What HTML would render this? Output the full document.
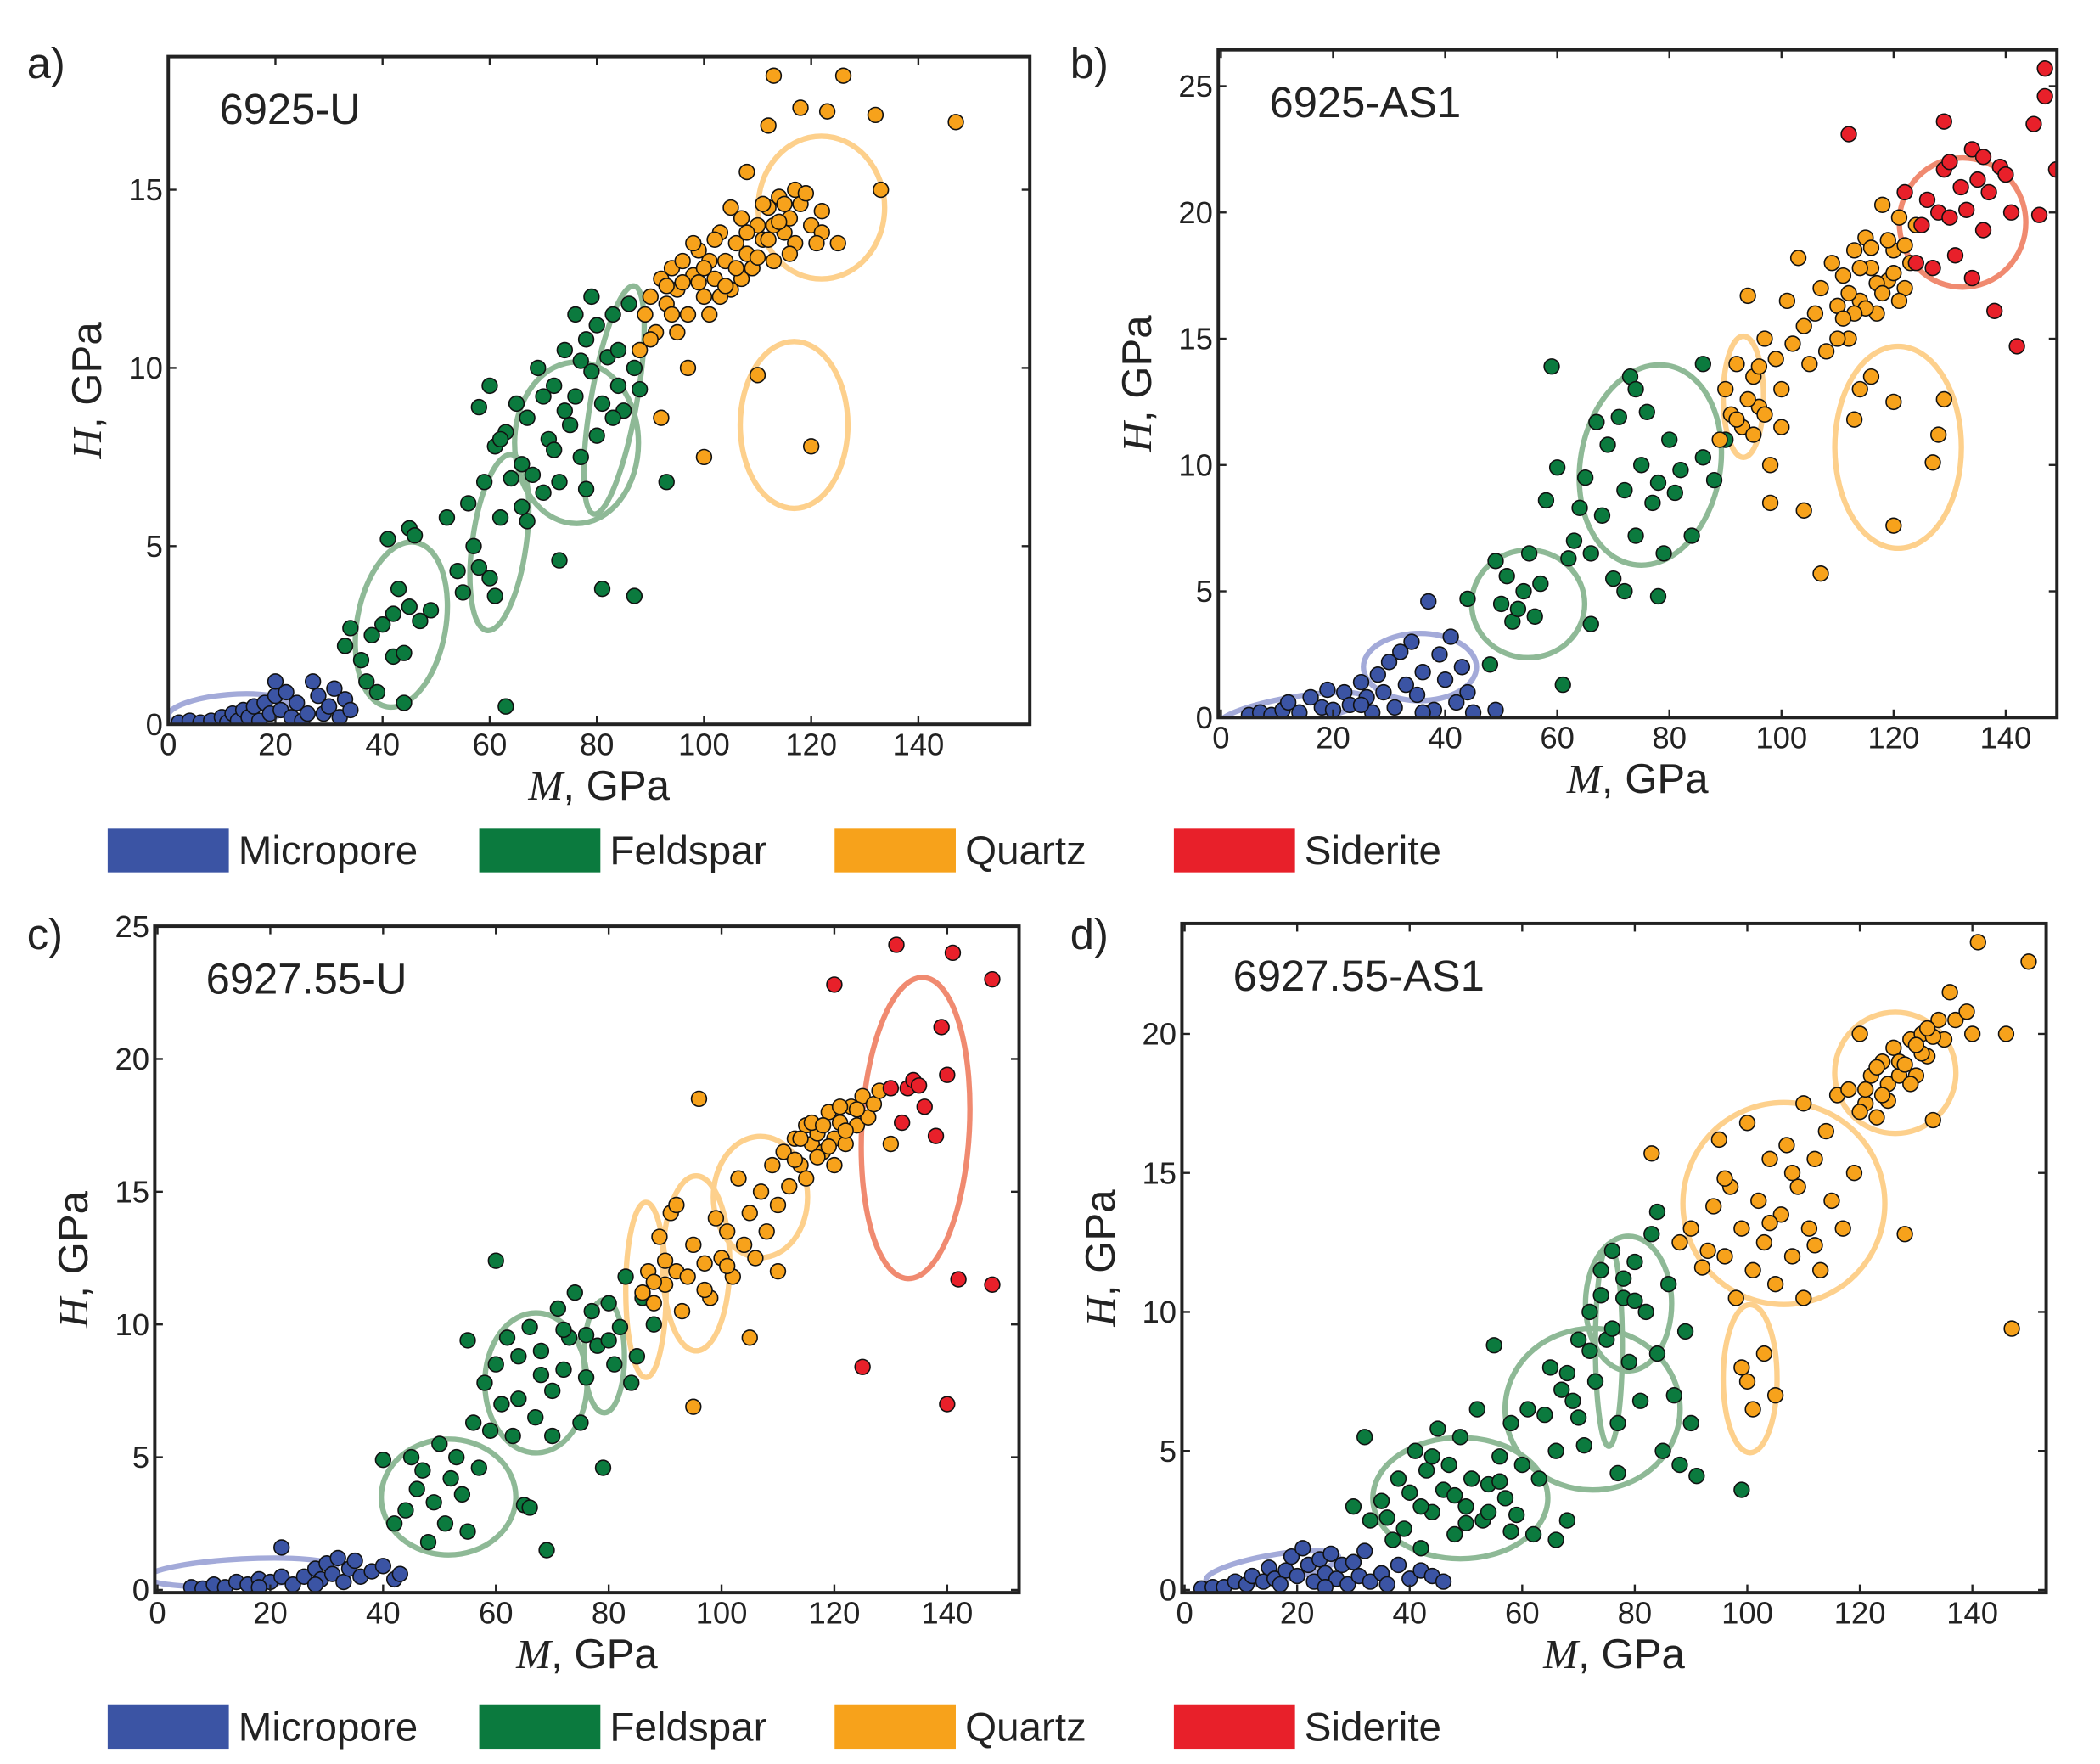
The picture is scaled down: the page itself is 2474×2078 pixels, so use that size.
<!DOCTYPE html>
<html><head><meta charset="utf-8"><style>
html,body{margin:0;padding:0;background:#fff;}
svg{display:block;}
text{font-family:"Liberation Sans",sans-serif;fill:#222;}
</style></head><body>
<svg id="fig" width="2474" height="2078" viewBox="0 0 1560 1310.3" preserveAspectRatio="none" xmlns="http://www.w3.org/2000/svg"></svg>
<script>
// ---------- data (M GPa, H GPa) ----------
const aMicro=[[2,0.05],[4,0.1],[6,0.05],[8,0.1],[10,0.2],[11,0.05],[12,0.3],[13,0.1],[14,0.4],[15,0.2],[16,0.5],[17,0.1],[18,0.6],[19,0.3],[20,0.8],[20,1.2],[21,0.4],[22,0.9],[23,0.2],[24,0.6],[25,0.1],[27,1.2],[28,0.8],[29,0.3],[30,0.5],[31,1.0],[32,0.2],[33,0.7],[34,0.4],[26,0.3]];
const aFeld=[[33,2.2],[34,2.7],[36,1.8],[37,1.2],[38,2.5],[39,0.9],[40,2.8],[41,5.2],[42,1.9],[42,3.1],[43,3.8],[44,0.6],[44,2.0],[45,5.5],[45,3.3],[46,5.3],[47,2.9],[49,3.2],[52,5.8],[54,4.3],[55,3.7],[56,6.2],[57,5.0],[58,4.4],[59,6.8],[60,4.1],[61,7.8],[61,3.6],[62,5.8],[63,0.5],[63,8.2],[64,6.9],[65,9.0],[66,7.3],[67,8.6],[67,5.7],[68,7.0],[69,10.0],[70,6.5],[71,8.0],[72,9.5],[73,6.8],[73,4.6],[74,10.5],[75,8.4],[76,9.2],[77,7.5],[78,10.8],[79,9.9],[80,11.2],[80,8.1],[81,3.8],[82,10.3],[83,11.5],[84,9.5],[85,8.8],[86,11.8],[87,3.6],[87,10.0],[88,9.4],[76,11.5],[72,7.7],[78,6.6],[66,6.1],[58,8.9],[60,9.5],[62,8.0],[79,12.0],[84,10.5],[93,6.8],[70,9.2],[74,8.8],[81,9.0],[83,8.6],[77,10.2]];
const aQuartz=[[88,10.5],[89,11.5],[90,12.0],[91,11.0],[92,12.5],[93,11.8],[94,12.8],[95,12.2],[96,13.0],[97,11.5],[98,12.6],[99,13.3],[100,12.0],[101,13.0],[102,12.5],[103,13.8],[104,13.0],[105,12.2],[106,13.5],[107,14.2],[108,13.2],[109,12.8],[110,14.0],[111,13.6],[112,14.5],[113,13.0],[114,14.8],[115,13.8],[116,14.2],[117,13.5],[118,14.6],[120,14.0],[122,13.8],[125,13.5],[92,8.6],[97,10.0],[100,7.5],[110,9.8],[120,7.8],[112,16.8],[113,18.2],[118,17.3],[123,17.2],[126,18.2],[132,17.1],[133,15.0],[147,16.9],[108,15.5],[105,14.5],[95,11.0],[103,12.0],[117,15.0],[122,14.4],[90,10.8],[99,12.4],[107,12.5],[113,14.0],[94,11.5],[96,12.4],[98,13.5],[100,12.8],[102,13.6],[104,12.3],[106,12.8],[108,13.8],[110,13.1],[112,13.6],[114,14.1],[116,13.2],[119,14.9],[121,13.5],[111,14.6],[115,14.6],[101,11.5],[93,12.3]];
const aSid=[];
const bMicro=[[5,0.1],[7,0.2],[9,0.1],[11,0.3],[12,0.6],[14,0.2],[16,0.8],[18,0.4],[19,1.1],[20,0.3],[22,1.0],[23,0.5],[25,1.4],[26,0.8],[27,0.2],[28,1.7],[29,1.0],[30,2.2],[31,0.4],[32,2.6],[33,1.3],[34,3.0],[35,0.9],[36,1.8],[37,4.6],[38,0.3],[39,2.5],[40,1.5],[41,3.2],[42,0.6],[43,2.0],[44,1.0],[45,0.2],[49,0.3],[25,0.5],[36,0.2]];
const bFeld=[[44,4.7],[48,2.1],[49,6.2],[50,4.5],[51,5.6],[52,3.8],[53,4.3],[54,5.0],[55,6.5],[56,4.0],[57,5.3],[58,8.6],[59,13.9],[60,9.9],[61,1.3],[62,6.3],[63,7.0],[64,8.3],[65,9.5],[66,6.5],[67,11.7],[68,8.0],[69,10.8],[70,5.5],[71,11.9],[72,9.0],[73,13.5],[74,7.2],[75,10.0],[76,12.1],[77,8.5],[78,9.3],[79,6.5],[80,11.0],[81,8.9],[82,9.8],[84,7.2],[86,10.3],[86,14.0],[88,9.4],[74,13.0],[72,5.0],[66,3.7],[78,4.8],[90,11.0]];
const bQuartz=[[89,11.0],[90,13.0],[91,12.0],[92,14.0],[93,11.5],[94,16.7],[95,13.5],[96,12.3],[97,15.0],[98,10.0],[99,14.2],[100,13.0],[101,16.5],[102,14.8],[103,18.2],[104,15.5],[105,14.0],[106,16.0],[107,5.7],[107,17.0],[108,14.5],[109,18.0],[110,16.3],[111,17.5],[112,15.0],[113,18.5],[114,16.5],[115,19.0],[116,17.8],[117,16.0],[118,20.3],[119,17.3],[120,18.5],[121,19.8],[122,17.0],[123,18.0],[124,19.5],[116,13.5],[120,12.5],[113,11.8],[120,7.6],[127,10.1],[128,11.2],[129,12.6],[98,8.5],[104,8.2],[114,13.0],[110,15.0],[100,11.5],[97,12.0],[112,16.8],[114,17.8],[115,16.2],[116,18.6],[117,17.2],[118,16.8],[119,18.9],[120,17.6],[121,16.5],[122,18.7],[113,16.0],[111,15.8],[94,12.6],[96,13.9],[92,11.8],[95,11.2]];
const bSid=[[112,23.1],[122,20.8],[124,18.0],[125,19.5],[126,20.5],[127,17.8],[128,20.0],[129,23.6],[129,21.7],[130,19.8],[131,18.3],[132,21.0],[133,20.1],[134,22.5],[134,17.4],[135,21.3],[136,19.3],[137,20.8],[138,16.1],[139,21.8],[140,21.5],[141,20.0],[142,14.7],[145,23.5],[146,19.9],[147,25.7],[147,24.6],[149,21.7],[130,22.0],[136,22.2]];
const cMicro=[[6,0.1],[8,0.05],[10,0.2],[12,0.1],[14,0.3],[16,0.2],[18,0.4],[20,0.3],[22,0.5],[22,1.6],[24,0.2],[26,0.5],[28,0.8],[29,0.4],[30,1.0],[31,0.6],[32,1.2],[33,0.3],[34,0.8],[35,1.1],[36,0.5],[38,0.7],[40,0.9],[42,0.4],[43,0.6],[18,0.1],[28,0.2]];
const cFeld=[[40,4.9],[42,2.5],[44,3.0],[46,3.8],[47,4.5],[48,1.8],[49,3.3],[50,5.5],[51,2.5],[52,4.2],[53,5.0],[54,3.6],[55,2.2],[56,6.3],[57,4.6],[58,7.8],[59,6.0],[60,12.4],[60,8.5],[61,7.0],[62,9.5],[63,5.8],[64,8.8],[65,3.2],[66,9.9],[67,6.5],[68,9.0],[69,1.5],[70,7.5],[71,10.6],[72,8.3],[73,9.5],[74,11.2],[75,6.3],[76,8.0],[77,10.5],[78,9.2],[79,4.6],[80,10.8],[81,8.5],[82,9.9],[83,11.8],[84,7.8],[85,8.8],[86,11.0],[88,10.0],[66,3.1],[70,5.8],[45,5.0],[55,9.4],[64,7.2],[68,8.1],[72,9.8],[76,9.6],[80,9.4]];
const cQuartz=[[86,11.2],[87,12.0],[88,10.8],[89,13.3],[90,11.5],[91,14.2],[92,12.0],[93,10.5],[94,11.8],[95,13.0],[95,6.9],[96,18.5],[97,12.3],[98,11.0],[99,14.0],[100,12.5],[101,13.5],[102,11.8],[103,15.5],[104,13.0],[105,14.2],[106,12.5],[107,15.0],[108,13.5],[109,16.0],[110,14.5],[111,16.5],[112,15.2],[113,17.0],[114,16.0],[115,17.5],[116,16.8],[117,17.2],[118,16.5],[119,18.0],[120,17.0],[121,17.6],[122,16.8],[123,18.2],[124,17.5],[125,18.6],[126,17.8],[127,18.3],[128,18.8],[115,15.5],[105,9.5],[110,12.0],[120,16.0],[130,16.8],[92,14.5],[114,17.0],[116,17.6],[118,17.5],[119,16.7],[121,18.2],[122,17.3],[124,18.1],[117,16.3],[113,16.2],[88,11.6],[90,12.4],[97,11.3],[101,12.2]];
const cSid=[[120,22.8],[125,8.4],[130,18.9],[131,24.3],[132,17.6],[133,18.9],[134,19.2],[135,19.0],[136,18.2],[138,17.1],[139,21.2],[140,19.4],[140,7.0],[141,24.0],[142,11.7],[148,23.0],[148,11.5]];
const dMicro=[[3,0.05],[5,0.1],[7,0.1],[9,0.3],[11,0.2],[12,0.5],[14,0.3],[15,0.8],[16,0.4],[18,0.7],[19,1.2],[20,0.5],[21,1.5],[22,0.9],[23,0.3],[24,1.1],[25,0.6],[26,1.3],[27,0.4],[28,0.9],[29,0.2],[30,1.0],[31,0.5],[32,1.4],[33,0.3],[35,0.6],[36,0.2],[38,0.9],[40,0.4],[42,0.7],[44,0.5],[46,0.3],[17,0.2],[25,0.1]];
const dFeld=[[30,3.0],[32,5.5],[33,2.5],[35,3.2],[37,1.8],[38,4.0],[39,2.2],[40,3.5],[41,5.0],[42,1.5],[43,4.3],[44,2.8],[45,5.8],[46,3.6],[47,4.5],[48,2.0],[49,5.5],[50,3.0],[51,4.0],[52,6.5],[53,2.5],[54,3.8],[55,8.8],[56,4.8],[57,3.3],[58,6.0],[59,2.7],[60,4.5],[61,6.5],[62,2.0],[63,4.0],[64,6.3],[65,8.0],[66,5.0],[67,7.2],[68,2.5],[69,6.8],[70,9.0],[71,5.2],[72,10.0],[73,7.5],[74,11.5],[75,9.0],[76,12.2],[77,6.0],[78,10.5],[79,8.2],[80,11.8],[81,6.8],[82,10.0],[83,12.8],[84,8.5],[85,5.0],[86,11.0],[87,7.0],[88,4.5],[89,9.3],[90,6.0],[91,4.1],[99,3.6],[84,13.6],[77,4.2],[66,1.8],[58,2.1],[36,2.6],[42,3.0],[48,3.4],[50,2.4],[54,2.8],[56,3.9],[44,4.8],[74,10.6],[76,9.4],[78,11.2],[80,10.4],[72,8.6],[70,6.2],[68,7.8]];
const dQuartz=[[83,15.7],[88,12.5],[90,13.0],[92,11.6],[94,13.8],[95,16.2],[96,12.0],[97,14.5],[98,10.5],[99,13.0],[100,7.5],[100,16.8],[101,11.5],[101,6.5],[102,14.0],[103,12.5],[104,15.5],[105,11.0],[106,13.5],[107,16.0],[108,12.0],[109,14.5],[110,10.5],[110,17.5],[111,13.0],[112,15.5],[113,11.5],[114,16.5],[115,14.0],[116,17.8],[117,13.0],[118,18.0],[119,15.0],[120,20.0],[121,17.5],[122,18.5],[123,17.0],[124,19.0],[125,18.2],[126,19.5],[127,18.5],[128,12.8],[129,19.8],[130,18.5],[131,20.0],[132,19.2],[133,16.9],[134,20.5],[135,19.8],[136,21.5],[137,20.5],[139,20.8],[140,20.0],[141,23.3],[146,20.0],[147,9.4],[150,22.6],[103,8.5],[105,7.0],[99,8.0],[121,18.0],[123,18.8],[125,17.6],[127,19.0],[129,18.2],[131,19.3],[133,19.9],[120,17.2],[124,17.8],[128,18.9],[130,19.6],[132,20.2],[93,12.2],[96,14.8],[104,13.2],[108,15.0],[112,12.4]];
const dSid=[];
const xTicks=[0,20,40,60,80,100,120,140];
const aYTicks=[0,5,10,15], bYTicks=[0,5,10,15,20,25], cYTicks=[0,5,10,15,20,25], dYTicks=[0,5,10,15,20];
// ellipses: [M, H, rx(px), ry(px), rotation, material]
const aEll=[[11.3,0.38,45,12,-5,'m'],[43.5,2.8,33,62,10,'f'],[61.8,5.1,20,66,8,'f'],[76.2,7.9,46,60,0,'f'],[83.2,9.1,17,86,10,'f'],[121.9,14.5,47,53,0,'q'],[116.8,8.4,40,62,0,'q']];
const bEll=[[12.7,0.27,55,10,-10,'m'],[35.5,2.0,42,25,0,'m'],[54.8,4.5,42,40,0,'f'],[76.6,10.0,52,75,10,'f'],[93.2,12.7,15,45,0,'q'],[120.8,10.7,47,75,0,'q'],[132.3,19.6,47,48,0,'s']];
const cEll=[[15.0,0.66,70,10,-3,'m'],[51.6,3.5,50,43,0,'f'],[67.1,7.8,38,52,0,'f'],[79.2,8.8,15,42,0,'f'],[86.6,11.3,15,65,0,'q'],[95.5,12.3,25,65,0,'q'],[106.9,14.8,35,45,0,'q'],[134.4,17.4,40,112,3,'s']];
const dEll=[[15.6,0.77,50,10,-10,'m'],[49.0,3.3,65,45,0,'f'],[72.5,6.5,65,60,0,'f'],[78.9,10.3,32,50,0,'f'],[75.4,8.8,10,75,0,'f'],[100.5,7.6,20,55,0,'q'],[106.5,13.9,75,75,0,'q'],[126.3,18.6,45,45,0,'q']];

const COL={m:'#3B54A4',f:'#0B7A3E',q:'#F7A21B',s:'#E8202A'};
const ECOL={m:'#A3AAD9',f:'#8EB996',q:'#FDD08C',s:'#F08A70'};
const NS='http://www.w3.org/2000/svg';
const svg=document.getElementById('fig');
function mk(tag,attrs,parent){const e=document.createElementNS(NS,tag);for(const k in attrs)e.setAttribute(k,attrs[k]);(parent||svg).appendChild(e);return e;}

function panel(cfg){
  const g=mk('g',{});
  
  
  const X=v=>cfg.x0+(v)*cfg.sx, Y=v=>cfg.y0-(v)*cfg.sy;
  const clipId='clip'+cfg.id;
  const cp=mk('clipPath',{id:clipId},g);
  mk('rect',{x:cfg.L,y:cfg.T,width:cfg.R-cfg.L,height:cfg.B-cfg.T},cp);
  const pg=mk('g',{'clip-path':'url(#'+clipId+')'},g);
  cfg.ell.forEach(e=>{
    const el=mk('ellipse',{cx:X(e[0]),cy:Y(e[1]),rx:e[2],ry:e[3],fill:'none',stroke:ECOL[e[5]],'stroke-width':4,transform:`rotate(${e[4]} ${X(e[0])} ${Y(e[1])})`},pg);
    
    
  });
  [['m',cfg.m],['f',cfg.f],['q',cfg.q],['s',cfg.s]].forEach(([k,arr])=>{
    arr.forEach(p=>{
      const c=mk('circle',{cx:X(p[0]),cy:Y(p[1]),r:5.6,fill:COL[k],stroke:'#111','stroke-width':1},pg);
      
      
    });
  });
  const box=mk('rect',{x:cfg.L,y:cfg.T,width:cfg.R-cfg.L,height:cfg.B-cfg.T,fill:'none',stroke:'#222','stroke-width':2.5},g);
  
  
  xTicks.forEach(t=>{
    const x=X(t);
    mk('line',{x1:x,x2:x,y1:cfg.B,y2:cfg.B-6,stroke:'#222','stroke-width':1.5},g);
    mk('line',{x1:x,x2:x,y1:cfg.T,y2:cfg.T+6,stroke:'#222','stroke-width':1.5},g);
    const tx=mk('text',{x:x,y:cfg.B+23,'font-size':23,'text-anchor':'middle'},g);
    tx.textContent=t;
    
    
  });
  cfg.yt.forEach(t=>{
    const y=Y(t);
    mk('line',{x1:cfg.L,x2:cfg.L+6,y1:y,y2:y,stroke:'#222','stroke-width':1.5},g);
    mk('line',{x1:cfg.R,x2:cfg.R-6,y1:y,y2:y,stroke:'#222','stroke-width':1.5},g);
    const ty=mk('text',{x:cfg.L-4,y:y+8,'font-size':23,'text-anchor':'end'},g);
    ty.textContent=t;
    
    
  });
  const xt=mk('text',{x:(cfg.L+cfg.R)/2,y:cfg.B+56,'font-size':31,'text-anchor':'middle'},g);
  xt.innerHTML='<tspan font-family="Liberation Serif" font-style="italic">M</tspan>, GPa';
  
  
  const yx=cfg.L-50, yy=(cfg.T+cfg.B)/2;
  const yt=mk('text',{x:yx,y:yy,'font-size':31,'text-anchor':'middle',transform:`rotate(-90 ${yx} ${yy})`},g);
  yt.innerHTML='<tspan font-family="Liberation Serif" font-style="italic">H</tspan>, GPa';
  
  
  const lt=mk('text',{x:cfg.L+38,y:cfg.T+50,'font-size':32},g);
  lt.textContent=cfg.label;
  
  
  const pl=mk('text',{x:cfg.px,y:cfg.py,'font-size':32},g);
  pl.textContent=cfg.id+')';
  
  
}
panel({id:'a',L:125,R:765,T:42,B:538,x0:125,sx:3.98,y0:538,sy:26.47,yt:aYTicks,m:aMicro,f:aFeld,q:aQuartz,s:aSid,ell:aEll,label:'6925-U',px:20,py:58});
panel({id:'b',L:905,R:1528,T:37,B:533,x0:907,sx:4.164,y0:533,sy:18.76,yt:bYTicks,m:bMicro,f:bFeld,q:bQuartz,s:bSid,ell:bEll,label:'6925-AS1',px:795,py:58});
panel({id:'c',L:115,R:757,T:688,B:1183,x0:117,sx:4.19,y0:1181,sy:19.72,yt:cYTicks,m:cMicro,f:cFeld,q:cQuartz,s:cSid,ell:cEll,label:'6927.55-U',px:20,py:705});
panel({id:'d',L:878,R:1520,T:686,B:1183,x0:880,sx:4.18,y0:1181,sy:20.65,yt:dYTicks,m:dMicro,f:dFeld,q:dQuartz,s:dSid,ell:dEll,label:'6927.55-AS1',px:795,py:705});

const legNames=['Micropore','Feldspar','Quartz','Siderite'];
const legKeys=['m','f','q','s'];
const legX=[80,356,620,872];
[[615],[1266]].forEach(([ly],row)=>{
  const lg=mk('g',{});
  
  
  legNames.forEach((n,i)=>{
    const r=mk('rect',{x:legX[i],y:ly,width:90,height:33,fill:COL[legKeys[i]]},lg);
    
    
    const t=mk('text',{x:legX[i]+97,y:ly+27,'font-size':30},lg);
    t.textContent=n;
    
    
  });
});
</script>
</body></html>
